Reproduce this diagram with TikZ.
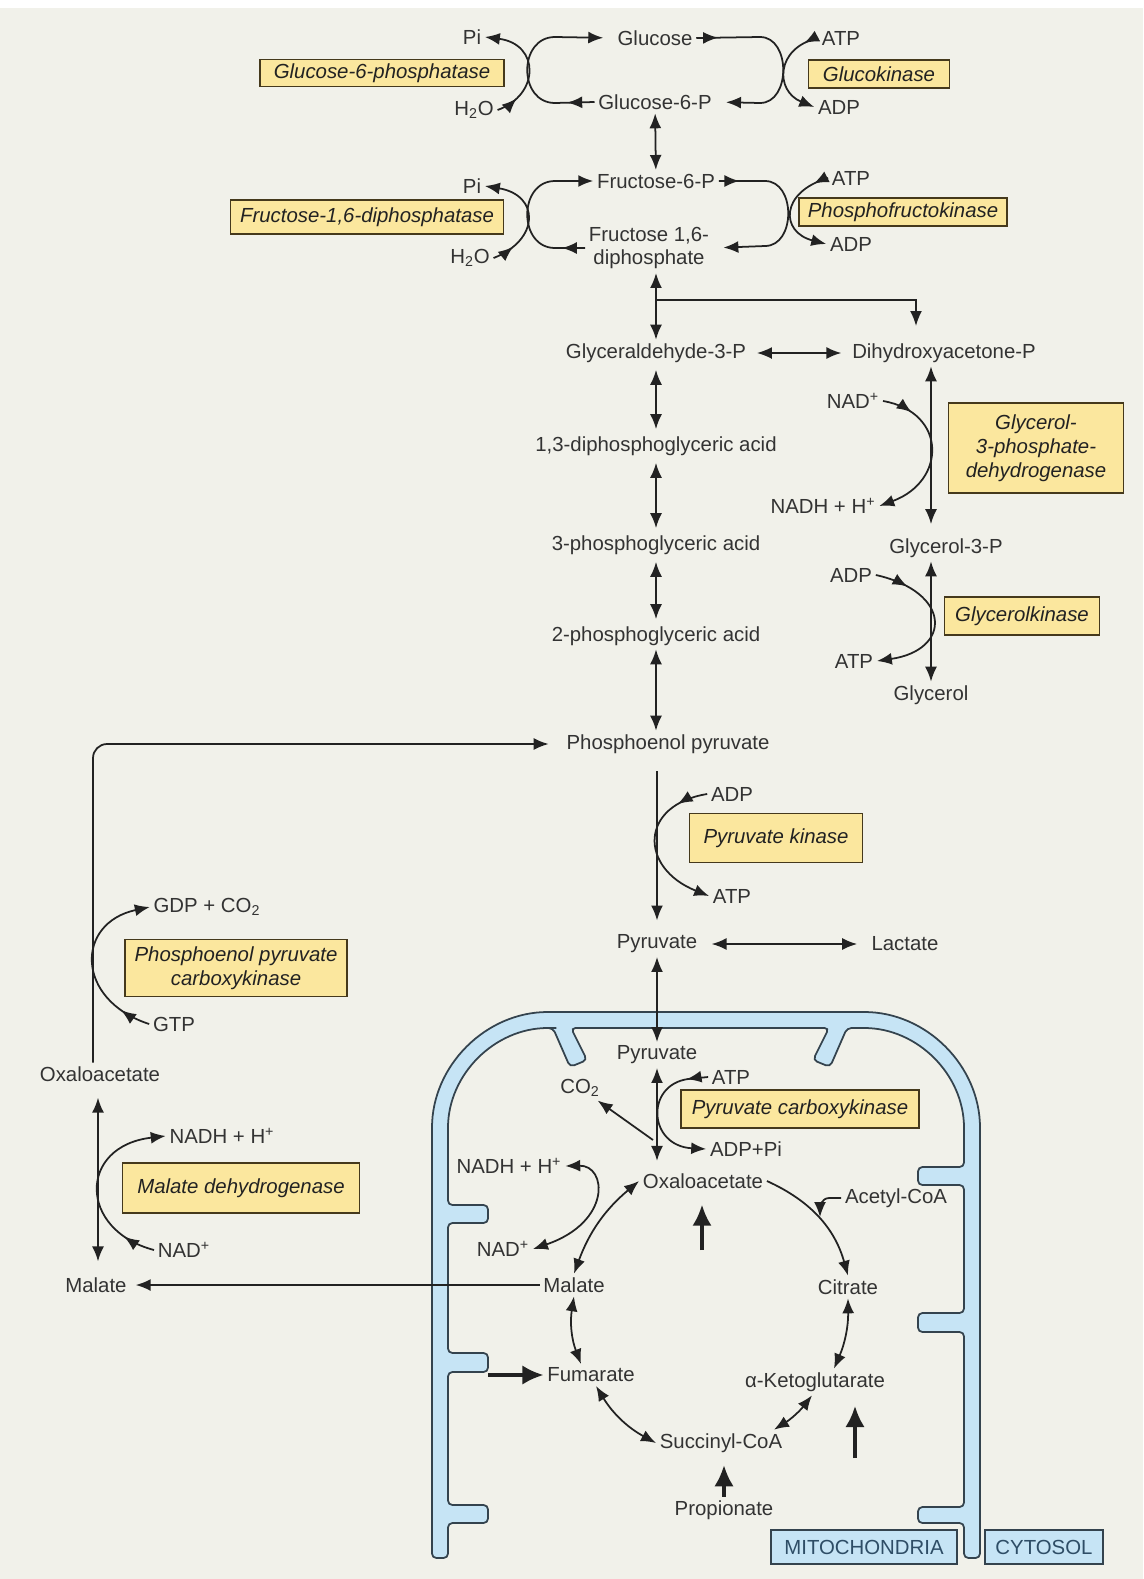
\documentclass[tikz,border=0pt]{standalone}
\usepackage{fontspec}
\setmainfont{Liberation Sans}
\usetikzlibrary{arrows.meta,calc,decorations.markings}
\definecolor{paper}{HTML}{F1F1EA}
\definecolor{ink}{HTML}{222222}
\definecolor{metab}{HTML}{333333}
\definecolor{enzfill}{HTML}{FBE79E}
\definecolor{enzline}{HTML}{45391C}
\definecolor{membfill}{HTML}{C6E4F5}
\definecolor{membline}{HTML}{34434E}
\definecolor{tagtext}{HTML}{2E4D66}

\begin{document}
\begin{tikzpicture}[x=0.02cm,y=-0.02cm,
    font=\fontsize{11.6}{13.6}\selectfont,
    met/.style={text=metab,inner sep=2pt},
    enz/.style 2 args={draw=enzline,fill=enzfill,line width=1pt,text=ink,
      font=\fontsize{11.6}{13.6}\selectfont\itshape,align=center,inner sep=1pt,
      minimum width=#1*0.02cm,minimum height=#2*0.02cm},
    tag/.style 2 args={draw=membline,fill=membfill,line width=1pt,text=tagtext,
      minimum width=#1*0.02cm,minimum height=#2*0.02cm},
    Hd/.tip={Latex[length=8.5pt,width=6.8pt]},
    fw/.style={draw=ink,line width=1pt,-Hd},
    bw/.style={draw=ink,line width=1pt,Hd-Hd},
    heavy/.style={draw=ink,line width=1.9pt,-{Latex[length=12pt,width=11pt]}},
    tipat/.style={postaction={decorate,decoration={markings,
      mark=at position #1 with {\arrow{Hd}}}}}]
  \useasboundingbox (0,0) rectangle (1143,1579);
  \fill[white] (0,0) rectangle (1143,1579);
  \fill[paper] (0,8) rectangle (1143,1579);

  % mitochondrial membrane
  \draw[membline,fill=membfill,line width=1pt,rounded corners=2.5pt]
    (432,1558) -- (432,1132) arc[start angle=180,end angle=270,radius=120]
    -- (860,1012) arc[start angle=270,end angle=360,radius=120]
    -- (980,1558) -- (964,1558)
    -- (964,1523) -- (918,1523) -- (918,1507) -- (964,1507)
    -- (964,1332) -- (918,1332) -- (918,1313) -- (964,1313)
    -- (964,1185) -- (918,1185) -- (918,1167) -- (964,1167)
    -- (964,1132) arc[start angle=0,end angle=-90,radius=104]
    -- (847,1028) -- (830,1067) -- (813,1060) -- (829,1028)
    -- (571,1028) -- (587,1060) -- (570,1067) -- (553,1028)
    -- (552,1028) arc[start angle=-90,end angle=-180,radius=104]
    -- (448,1205) -- (488,1205) -- (488,1223) -- (448,1223)
    -- (448,1353) -- (488,1353) -- (488,1372) -- (448,1372)
    -- (448,1505) -- (488,1505) -- (488,1523) -- (448,1523)
    -- (448,1558) -- cycle;

  % glucose / glucose-6-P
  \node[met] (glc) at (655,38) {Glucose};
  \node[met] (gsixp) at (655,102) {Glucose-6-P};
  \node[met] (pia) at (472,37) {Pi};
  \node[met] (h2oa) at (474,110) {H\textsubscript{2}O};
  \node[met] (atpa) at (841,38) {ATP};
  \node[met] (adpa) at (839,107) {ADP};
  \node[enz={244}{27}] (gsixpase) at (382,73) {Glucose-6-phosphatase};
  \node[enz={141}{28}] (gk) at (879,74) {Glucokinase};

  % fructose-6-P / fructose 1,6-diphosphate
  \node[met] (fsixp) at (656,181) {Fructose-6-P};
  \node[met,align=center] (fbp) at (649,248) {Fructose 1,6-\\diphosphate};
  \node[met] (pib) at (472,186) {Pi};
  \node[met] (h2ob) at (470,258) {H\textsubscript{2}O};
  \node[met] (atpb) at (851,178) {ATP};
  \node[met] (adpb) at (851,244) {ADP};
  \node[enz={273}{34}] (fbpase) at (367,217) {Fructose-1,6-diphosphatase};
  \node[enz={208}{28}] (pfk) at (903,212) {Phosphofructokinase};

  % triose column
  \node[met] (gap) at (656,353) {Glyceraldehyde-3-P};
  \node[met] (dhap) at (944,353) {Dihydroxyacetone-P};
  \node[met] (dpg) at (656,446) {1,3-diphosphoglyceric acid};
  \node[met] (pgthree) at (656,545) {3-phosphoglyceric acid};
  \node[met] (pgtwo) at (656,636) {2-phosphoglyceric acid};
  \node[met] (pep) at (668,744) {Phosphoenol pyruvate};

  % glycerol branch
  \node[met] (nadc) at (853,401) {NAD\textsuperscript{+}};
  \node[met] (nadhc) at (823,506) {NADH + H\textsuperscript{+}};
  \node[enz={175}{90}] (gpdh) at (1036,448) {Glycerol-\\3-phosphate-\\dehydrogenase};
  \node[met] (glyp) at (946,548) {Glycerol-3-P};
  \node[met] (adpg) at (851,575) {ADP};
  \node[met] (atpg) at (854,661) {ATP};
  \node[enz={155}{38}] (glyk) at (1022,616) {Glycerolkinase};
  \node[met] (glyc) at (931,695) {Glycerol};

  % pyruvate kinase
  \node[met] (adpk) at (732,794) {ADP};
  \node[met] (atpk) at (732,896) {ATP};
  \node[enz={173}{49}] (pk) at (776,838) {Pyruvate kinase};
  \node[met] (pyrc) at (657,944) {Pyruvate};
  \node[met] (lac) at (905,944) {Lactate};

  % cytosolic oxaloacetate
  \node[met] (gdp) at (207,907) {GDP + CO\textsubscript{2}};
  \node[enz={222}{57}] (pepck) at (236,968) {Phosphoenol pyruvate\\carboxykinase};
  \node[met] (gtp) at (174,1024) {GTP};
  \node[met] (oaac) at (100,1074) {Oxaloacetate};
  \node[met] (nadhm) at (222,1136) {NADH + H\textsuperscript{+}};
  \node[enz={237}{50}] (mdh) at (241,1188) {Malate dehydrogenase};
  \node[met] (nadm) at (184,1250) {NAD\textsuperscript{+}};
  \node[met] (malc) at (96,1285) {Malate};

  % mitochondrion
  \node[met] (pyrm) at (657,1055) {Pyruvate};
  \node[met] (cotwo) at (580,1088) {CO\textsubscript{2}};
  \node[met] (atpm) at (731,1077) {ATP};
  \node[enz={238}{38}] (pc) at (800,1109) {Pyruvate carboxykinase};
  \node[met] (adppi) at (746,1149) {ADP+Pi};
  \node[met] (oaam) at (703,1181) {Oxaloacetate};
  \node[met] (acoa) at (896,1198) {Acetyl-CoA};
  \node[met] (nadhx) at (509,1166) {NADH + H\textsuperscript{+}};
  \node[met] (nadx) at (503,1249) {NAD\textsuperscript{+}};
  \node[met] (malm) at (574,1285) {Malate};
  \node[met] (cit) at (848,1287) {Citrate};
  \node[met] (fum) at (591,1375) {Fumarate};
  \node[met] (akg) at (815,1382) {α-Ketoglutarate};
  \node[met] (succ) at (721,1443) {Succinyl-CoA};
  \node[met] (prop) at (724,1510) {Propionate};
  \node[tag={186}{34}] (mito) at (864,1547) {MITOCHONDRIA};
  \node[tag={118}{34}] (cyto) at (1044,1547) {CYTOSOL};

  \coordinate (split) at (656,300);
  \coordinate (dhapin) at (916,326);
  \coordinate (colL) at (93,0);
  \coordinate (colM) at (98,0);
  \coordinate (cofrom) at (653,1140);
  \coordinate (acoain) at (820,1217);
  \coordinate (oaaup) at (702,1250);
  \coordinate (fumin) at (488,1375);
  \coordinate (akgin) at (855,1458);

  % hexose loops
  \draw[fw,tipat=0.14,shorten >=6pt] (gsixp.west) -- (555,103) .. controls (518,103) and (518,37) .. (555,37) -- (glc.west);
  \draw[fw,tipat=0.2] (h2oa.east) .. controls (540,95) and (540,44) .. (pia.east);
  \draw[fw,tipat=0.11,shorten >=6pt] (glc.east) -- (760,37) .. controls (791,37) and (791,103) .. (760,103) -- (gsixp.east);
  \draw[fw,tipat=0.15] (atpa.west) .. controls (775,48) and (775,91) .. (adpa.west);
  \draw[fw,tipat=0.14] (fbp.west) -- (555,248) .. controls (518,248) and (518,181) .. (555,181) -- (fsixp.west);
  \draw[fw,tipat=0.2] (h2ob.east) .. controls (540,240) and (540,195) .. (pib.east);
  \draw[fw,tipat=0.11,shorten >=6pt] (fsixp.east) -- (765,181) .. controls (796,181) and (796,246) .. (765,246) -- (fbp.east);
  \draw[fw,tipat=0.15] (atpb.west) .. controls (780,192) and (780,232) .. (adpb.west);

  % glycolytic column
  \draw[bw] (gsixp) -- (fsixp);
  \draw[bw] (fbp.south -| gap.north) -- (gap.north);
  \draw[fw] (split) -| (dhapin);
  \draw[bw,shorten <=4pt,shorten >=4pt] (gap) -- (dhap);
  \foreach \a/\b in {gap/dpg,dpg/pgthree,pgthree/pgtwo}{\draw[bw,shorten <=2pt,shorten >=2pt] (\a) -- (\b);}
  \draw[bw] (pgtwo.south) -- (pgtwo.south |- pep.north);
  \draw[bw,shorten >=6pt] (dhap.south -| glyc) -- (glyp.north -| glyc);
  \draw[bw] (glyp.south -| glyc) -- (glyc.north);
  \draw[fw,tipat=0.2] (nadc.east) .. controls (947,412) and (947,481) .. (nadhc.east);
  \draw[fw,tipat=0.22] (adpg.east) .. controls (952,592) and (952,650) .. (atpg.east);
  \draw[fw,shorten <=8pt,shorten >=6pt] (pep.south -| pyrc) -- (pyrc.north);
  \draw[fw,tipat=0.2] (adpk.west) .. controls (639,805) and (639,868) .. (atpk.west);
  \draw[bw,shorten <=6pt,shorten >=6pt] (pyrc) -- (lac);
  \draw[bw] (pyrc) -- (pyrm);

  % cytosolic return
  \draw[fw,rounded corners=8pt,shorten >=8pt] (oaac.north -| colL) |- (pep.west);
  \draw[fw,tipat=0.18] (gtp.west) .. controls (75,1000) and (75,923) .. (gdp.west);
  \draw[bw,shorten <=7pt,shorten >=7pt] (oaac.south -| colM) -- (malc.north -| colM);
  \draw[fw,tipat=0.18] (nadm.west) .. controls (78,1230) and (78,1146) .. (nadhm.west);
  \draw[fw,shorten >=3pt] (malm) -- (malc);

  % mitochondrial reactions
  \draw[bw,shorten >=5pt] (pyrm.south) -- (pyrm.south |- oaam.north);
  \draw[fw] (cofrom) -- (cotwo);
  \draw[fw,tipat=0.16] (atpm.west) -- ++(-20,2) .. controls (645,1085) and (648,1146) .. (adppi.west);
  \draw[fw] (oaam.east) to[bend left=25] (cit.north);
  \draw[fw] (acoa.west) -- ++(-12,0) to[out=180,in=90] (acoain);
  \draw[bw] (cit.south) to[bend left=12] ($(akg.north)+(19,0)$);
  \draw[bw] ($(akg.south)+(-3,0)$) to[bend left=10] ($(succ.north east)+(-12,0)$);
  \draw[bw] (succ.west) to[bend left=15] ($(fum.south)+(5,0)$);
  \draw[bw] ($(fum.north)+(-10,0)$) to[bend left=15] (malm.south);
  \draw[bw] (malm.north) to[bend left=15] (oaam.west);
  \draw[bw] (nadhx.east) .. controls (607,1165) and (612,1222) .. (nadx.east);

  % anaplerotic inputs
  \draw[heavy,shorten >=7pt] (oaaup) -- (oaaup |- oaam.south);
  \draw[heavy] (fumin) -- (fum.west);
  \draw[heavy,shorten >=6pt] (akgin) -- (akgin |- akg.south);
  \draw[heavy,shorten >=5pt] (prop.north) -- (prop.north |- succ.south);
\end{tikzpicture}
\end{document}
